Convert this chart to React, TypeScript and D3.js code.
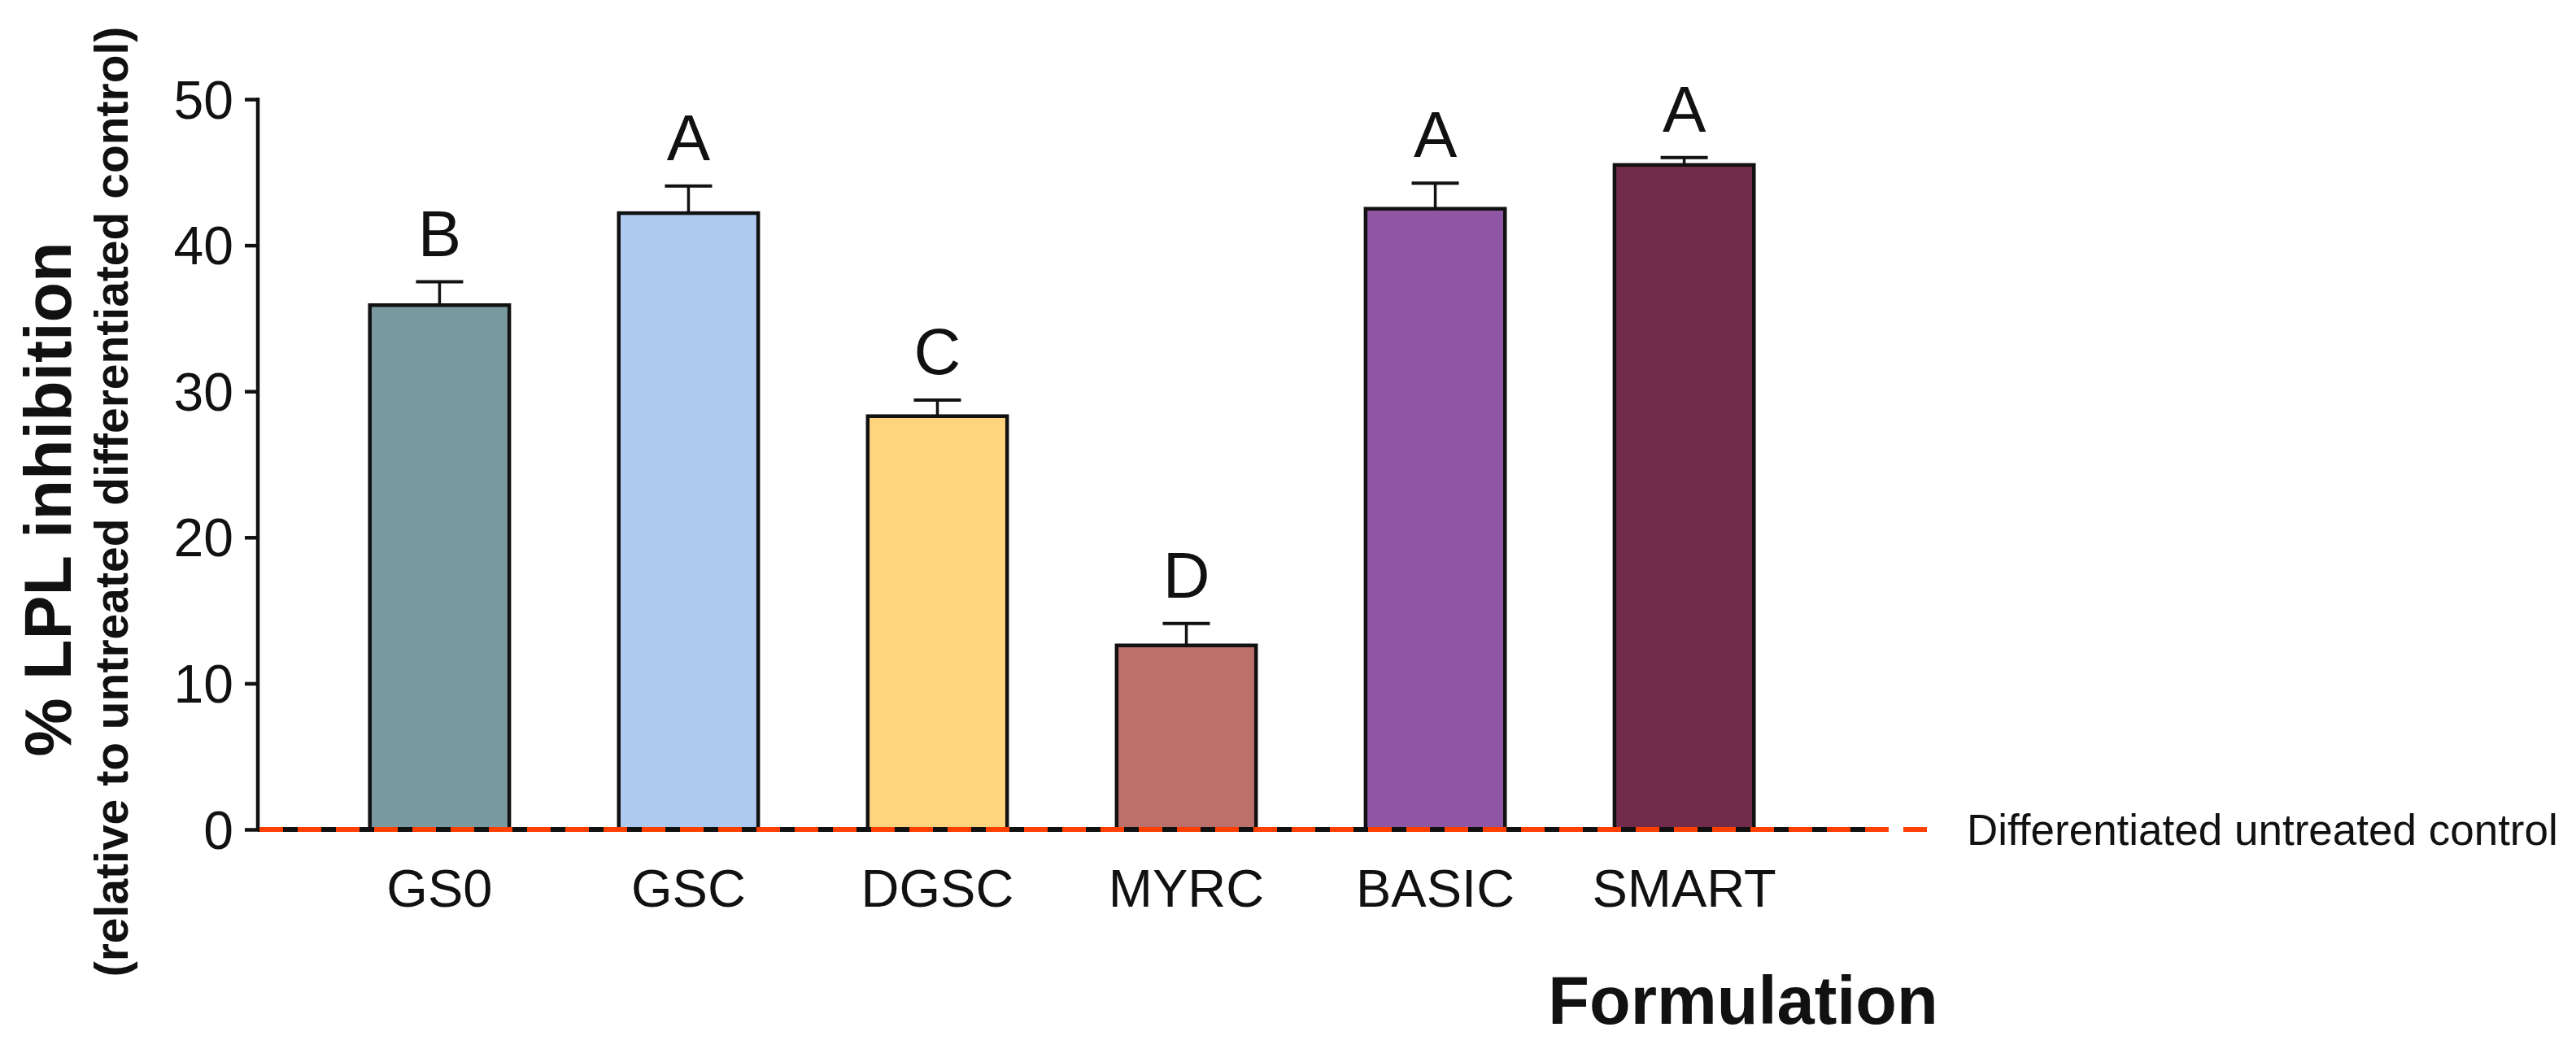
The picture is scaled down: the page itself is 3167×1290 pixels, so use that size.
import React, { useEffect, useRef } from 'react';
import * as d3 from 'd3';

// formulations, in plot order
const formulations = ['GS0', 'GSC', 'DGSC', 'MYRC', 'BASIC', 'SMART'];
// % LPL inhibition (mean) and SEM
const inhibition = [35.9, 42.2, 28.3, 12.6, 42.5, 45.5];
const sem = [1.6, 1.85, 1.1, 1.5, 1.75, 0.5];
// statistical grouping letters
const groups = ['B', 'A', 'C', 'D', 'A', 'A'];
const barColors = ['#7a9aa2', '#aecaee', '#ffd47e', '#bb706c', '#8f56a3', '#722c4b'];
const yTicks = [0, 10, 20, 30, 40, 50];

const FONT = '"Liberation Sans", Arial, Helvetica, sans-serif';

const LplChart = () => {
  const ref = useRef(null);

  const drawChart = () => {
    const width = 3167,
      height = 1290;
    const x0 = 317,
      y0 = 1020,
      yTop = 122;

    d3.select(ref.current).selectAll('*').remove();

    const svg = d3
      .select(ref.current)
      .append('svg')
      .attr('width', width)
      .attr('height', height)
      .style('position', 'absolute')
      .style('left', 0)
      .style('top', 0)
      .style('font-family', FONT);

    svg.append('rect').attr('width', width).attr('height', height).attr('fill', '#fff');

    const x = d3
      .scaleBand()
      .domain(formulations)
      .range([x0, 2294])
      .paddingInner(0.44)
      .paddingOuter(0.45);

    const y = d3.scaleLinear().domain([0, 50]).range([y0, yTop]);

    const rows = formulations.map((f, i) => ({
      name: f,
      value: inhibition[i],
      err: sem[i],
      group: groups[i],
      color: barColors[i],
    }));

    // bars
    svg
      .selectAll('.bar')
      .data(rows)
      .enter()
      .append('rect')
      .attr('class', 'bar')
      .attr('x', (d) => x(d.name))
      .attr('width', x.bandwidth())
      .attr('y', (d) => y(d.value))
      .attr('height', (d) => y(0) - y(d.value))
      .attr('fill', (d) => d.color)
      .attr('stroke', '#111')
      .attr('stroke-width', 4.5);

    // error bars (upper only)
    const err = svg.selectAll('.err').data(rows).enter().append('g').attr('class', 'err');
    err
      .append('line')
      .attr('x1', (d) => x(d.name) + x.bandwidth() / 2)
      .attr('x2', (d) => x(d.name) + x.bandwidth() / 2)
      .attr('y1', (d) => y(d.value))
      .attr('y2', (d) => y(d.value + d.err))
      .attr('stroke', '#111')
      .attr('stroke-width', 3.5);
    err
      .append('line')
      .attr('x1', (d) => x(d.name) + x.bandwidth() / 2 - 29)
      .attr('x2', (d) => x(d.name) + x.bandwidth() / 2 + 29)
      .attr('y1', (d) => y(d.value + d.err))
      .attr('y2', (d) => y(d.value + d.err))
      .attr('stroke', '#111')
      .attr('stroke-width', 4);

    // group letters
    svg
      .selectAll('.grp')
      .data(rows)
      .enter()
      .append('text')
      .attr('class', 'grp')
      .attr('x', (d) => x(d.name) + x.bandwidth() / 2)
      .attr('y', (d) => y(d.value + d.err) - 32)
      .attr('text-anchor', 'middle')
      .style('font-size', '80px')
      .style('fill', '#111')
      .text((d) => d.group);

    // y axis
    const yAxis = svg
      .append('g')
      .attr('transform', `translate(${x0},0)`)
      .call(d3.axisLeft(y).tickValues(yTicks).tickSize(16).tickPadding(14));
    yAxis.select('.domain').remove();
    yAxis.selectAll('line').attr('stroke', '#111').attr('stroke-width', 4.5);
    yAxis
      .selectAll('text')
      .style('font-size', '66px')
      .style('font-family', FONT)
      .attr('fill', '#111')
      .attr('dy', '0.35em');
    svg
      .append('line')
      .attr('x1', x0)
      .attr('x2', x0)
      .attr('y1', yTop - 2)
      .attr('y2', y0)
      .attr('stroke', '#111')
      .attr('stroke-width', 4.5);

    // x category labels
    svg
      .selectAll('.xlab')
      .data(rows)
      .enter()
      .append('text')
      .attr('class', 'xlab')
      .attr('x', (d) => x(d.name) + x.bandwidth() / 2)
      .attr('y', 1115)
      .attr('text-anchor', 'middle')
      .style('font-size', '65px')
      .style('fill', '#111')
      .text((d) => d.name);

    // baseline: black axis with the orange dashed control line on top
    svg
      .append('line')
      .attr('x1', x0)
      .attr('x2', 2302)
      .attr('y1', y(0))
      .attr('y2', y(0))
      .attr('stroke', '#111')
      .attr('stroke-width', 6);
    svg
      .append('line')
      .attr('x1', x0 + 2)
      .attr('x2', 2384)
      .attr('y1', y(0))
      .attr('y2', y(0))
      .attr('stroke', '#ff3f00')
      .attr('stroke-width', 6)
      .attr('stroke-dasharray', '29 18');

    svg
      .append('text')
      .attr('x', 2418)
      .attr('y', y(0))
      .attr('dy', '0.36em')
      .style('font-size', '53px')
      .style('fill', '#111')
      .text('Differentiated untreated control');

    // axis titles
    svg
      .append('text')
      .attr('x', 2143)
      .attr('y', 1259)
      .attr('text-anchor', 'middle')
      .style('font-size', '83px')
      .style('font-weight', 'bold')
      .style('fill', '#111')
      .text('Formulation');

    svg
      .append('text')
      .attr('transform', 'translate(87,614) rotate(-90)')
      .attr('text-anchor', 'middle')
      .style('font-size', '81px')
      .style('font-weight', 'bold')
      .style('fill', '#111')
      .text('% LPL inhibition');

    svg
      .append('text')
      .attr('transform', 'translate(157,617) rotate(-90)')
      .attr('text-anchor', 'middle')
      .style('font-size', '57px')
      .style('font-weight', 'bold')
      .style('fill', '#111')
      .text('(relative to untreated differentiated control)');
  };

  useEffect(() => {
    drawChart();
  }, []);

  return <div ref={ref} style={{ width: 3167, height: 1290 }}></div>;
};

export default function App() {
  return <LplChart />;
}
